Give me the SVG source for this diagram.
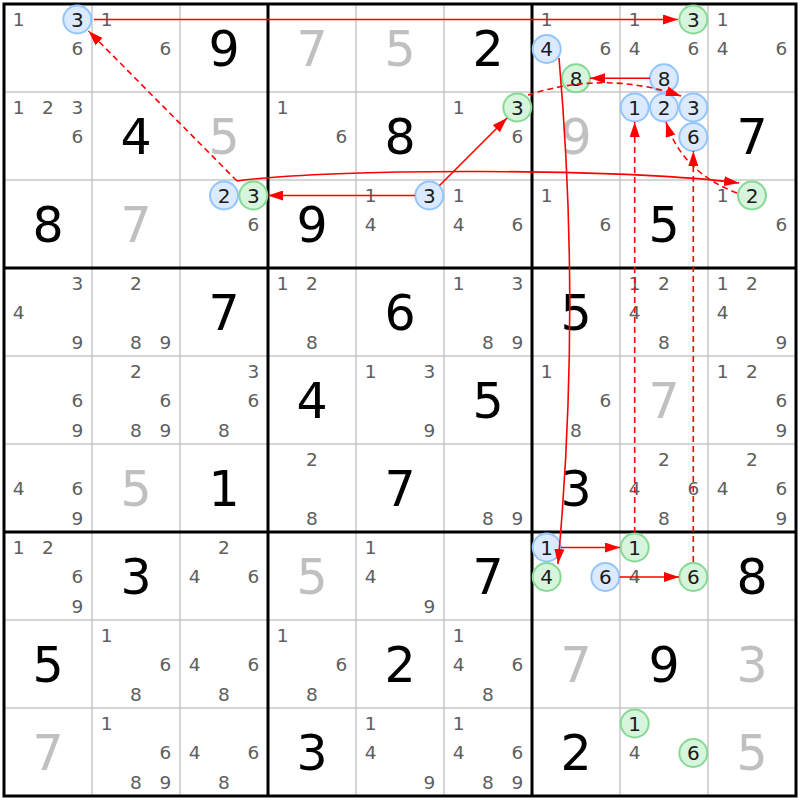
<svg xmlns="http://www.w3.org/2000/svg" width="800" height="800" viewBox="0 0 800 800">
<defs>
<style>
text{font-family:"DejaVu Sans",Verdana,sans-serif;text-anchor:middle}
.g{font-size:49px;fill:#000}
.s{font-size:49px;fill:#c0c0c0}
.c{font-size:18.5px;fill:#5e5e5e}
.h{font-size:20px;fill:#1a1a1a}
.bl{fill:#dbeafe;stroke:#93c5fd;stroke-width:2}
.gr{fill:#d6f5dc;stroke:#86d993;stroke-width:2}
.thin{stroke:#c8c8c8;stroke-width:1.5}
.thick{stroke:#000;stroke-width:3}
.a{fill:none;stroke:#f00;stroke-width:1.6;marker-end:url(#ah)}
.d{stroke-dasharray:6 4}
</style>
<marker id="ah" viewBox="0 0 15 10" refX="15" refY="5" markerWidth="15" markerHeight="10" markerUnits="userSpaceOnUse" orient="auto"><path d="M0,0 L15,5 L0,10 z" fill="#f00"/></marker>
</defs>
<rect x="0" y="0" width="800" height="800" fill="#fff"/>
<g id="grid">
<path class="thin" d="M92,4V796M180,4V796M356,4V796M444,4V796M620,4V796M708,4V796M4,92H796M4,180H796M4,356H796M4,444H796M4,620H796M4,708H796"/>
<path class="thick" d="M268,4V796M532,4V796M4,268H796M4,532H796"/>
<rect x="4" y="4" width="792" height="792" fill="none" stroke="#000" stroke-width="3"/>
</g>
<g id="cells">
<g id="r0c0" transform="translate(4,4)"><text class="c" x="14.7" y="22">1</text><circle class="bl" cx="73.3" cy="15.5" r="14"/><text class="h" x="73.3" y="22.8">3</text><text class="c" x="73.3" y="51.3">6</text></g>
<g id="r0c1" transform="translate(92,4)"><text class="c" x="14.7" y="22">1</text><text class="c" x="73.3" y="51.3">6</text></g>
<g id="r0c2" transform="translate(180,4)"><text class="g" x="44" y="62">9</text></g>
<g id="r0c3" transform="translate(268,4)"><text class="s" x="44" y="62">7</text></g>
<g id="r0c4" transform="translate(356,4)"><text class="s" x="44" y="62">5</text></g>
<g id="r0c5" transform="translate(444,4)"><text class="g" x="44" y="62">2</text></g>
<g id="r0c6" transform="translate(532,4)"><text class="c" x="14.7" y="22">1</text><circle class="bl" cx="14.7" cy="45" r="14"/><text class="h" x="14.7" y="52.3">4</text><text class="c" x="73.3" y="51.3">6</text><circle class="gr" cx="44" cy="74.3" r="14"/><text class="h" x="44" y="81.6">8</text></g>
<g id="r0c7" transform="translate(620,4)"><text class="c" x="14.7" y="22">1</text><circle class="gr" cx="73.3" cy="15.5" r="14"/><text class="h" x="73.3" y="22.8">3</text><text class="c" x="14.7" y="51.3">4</text><text class="c" x="73.3" y="51.3">6</text><circle class="bl" cx="44" cy="74.3" r="14"/><text class="h" x="44" y="81.6">8</text></g>
<g id="r0c8" transform="translate(708,4)"><text class="c" x="14.7" y="22">1</text><text class="c" x="14.7" y="51.3">4</text><text class="c" x="73.3" y="51.3">6</text></g>

<g id="r1c0" transform="translate(4,92)"><text class="c" x="14.7" y="22">1</text><text class="c" x="44" y="22">2</text><text class="c" x="73.3" y="22">3</text><text class="c" x="73.3" y="51.3">6</text></g>
<g id="r1c1" transform="translate(92,92)"><text class="g" x="44" y="62">4</text></g>
<g id="r1c2" transform="translate(180,92)"><text class="s" x="44" y="62">5</text></g>
<g id="r1c3" transform="translate(268,92)"><text class="c" x="14.7" y="22">1</text><text class="c" x="73.3" y="51.3">6</text></g>
<g id="r1c4" transform="translate(356,92)"><text class="g" x="44" y="62">8</text></g>
<g id="r1c5" transform="translate(444,92)"><text class="c" x="14.7" y="22">1</text><circle class="gr" cx="73.3" cy="15.5" r="14"/><text class="h" x="73.3" y="22.8">3</text><text class="c" x="73.3" y="51.3">6</text></g>
<g id="r1c6" transform="translate(532,92)"><text class="s" x="44" y="62">9</text></g>
<g id="r1c7" transform="translate(620,92)"><circle class="bl" cx="14.7" cy="15.5" r="14"/><text class="h" x="14.7" y="22.8">1</text><circle class="bl" cx="44" cy="15.5" r="14"/><text class="h" x="44" y="22.8">2</text><circle class="bl" cx="73.3" cy="15.5" r="14"/><text class="h" x="73.3" y="22.8">3</text><circle class="bl" cx="73.3" cy="45" r="14"/><text class="h" x="73.3" y="52.3">6</text></g>
<g id="r1c8" transform="translate(708,92)"><text class="g" x="44" y="62">7</text></g>

<g id="r2c0" transform="translate(4,180)"><text class="g" x="44" y="62">8</text></g>
<g id="r2c1" transform="translate(92,180)"><text class="s" x="44" y="62">7</text></g>
<g id="r2c2" transform="translate(180,180)"><circle class="bl" cx="44" cy="15.5" r="14"/><text class="h" x="44" y="22.8">2</text><circle class="gr" cx="73.3" cy="15.5" r="14"/><text class="h" x="73.3" y="22.8">3</text><text class="c" x="73.3" y="51.3">6</text></g>
<g id="r2c3" transform="translate(268,180)"><text class="g" x="44" y="62">9</text></g>
<g id="r2c4" transform="translate(356,180)"><text class="c" x="14.7" y="22">1</text><circle class="bl" cx="73.3" cy="15.5" r="14"/><text class="h" x="73.3" y="22.8">3</text><text class="c" x="14.7" y="51.3">4</text></g>
<g id="r2c5" transform="translate(444,180)"><text class="c" x="14.7" y="22">1</text><text class="c" x="14.7" y="51.3">4</text><text class="c" x="73.3" y="51.3">6</text></g>
<g id="r2c6" transform="translate(532,180)"><text class="c" x="14.7" y="22">1</text><text class="c" x="73.3" y="51.3">6</text></g>
<g id="r2c7" transform="translate(620,180)"><text class="g" x="44" y="62">5</text></g>
<g id="r2c8" transform="translate(708,180)"><text class="c" x="14.7" y="22">1</text><circle class="gr" cx="44" cy="15.5" r="14"/><text class="h" x="44" y="22.8">2</text><text class="c" x="73.3" y="51.3">6</text></g>

<g id="r3c0" transform="translate(4,268)"><text class="c" x="73.3" y="22">3</text><text class="c" x="14.7" y="51.3">4</text><text class="c" x="73.3" y="80.6">9</text></g>
<g id="r3c1" transform="translate(92,268)"><text class="c" x="44" y="22">2</text><text class="c" x="44" y="80.6">8</text><text class="c" x="73.3" y="80.6">9</text></g>
<g id="r3c2" transform="translate(180,268)"><text class="g" x="44" y="62">7</text></g>
<g id="r3c3" transform="translate(268,268)"><text class="c" x="14.7" y="22">1</text><text class="c" x="44" y="22">2</text><text class="c" x="44" y="80.6">8</text></g>
<g id="r3c4" transform="translate(356,268)"><text class="g" x="44" y="62">6</text></g>
<g id="r3c5" transform="translate(444,268)"><text class="c" x="14.7" y="22">1</text><text class="c" x="73.3" y="22">3</text><text class="c" x="44" y="80.6">8</text><text class="c" x="73.3" y="80.6">9</text></g>
<g id="r3c6" transform="translate(532,268)"><text class="g" x="44" y="62">5</text></g>
<g id="r3c7" transform="translate(620,268)"><text class="c" x="14.7" y="22">1</text><text class="c" x="44" y="22">2</text><text class="c" x="14.7" y="51.3">4</text><text class="c" x="44" y="80.6">8</text></g>
<g id="r3c8" transform="translate(708,268)"><text class="c" x="14.7" y="22">1</text><text class="c" x="44" y="22">2</text><text class="c" x="14.7" y="51.3">4</text><text class="c" x="73.3" y="80.6">9</text></g>

<g id="r4c0" transform="translate(4,356)"><text class="c" x="73.3" y="51.3">6</text><text class="c" x="73.3" y="80.6">9</text></g>
<g id="r4c1" transform="translate(92,356)"><text class="c" x="44" y="22">2</text><text class="c" x="73.3" y="51.3">6</text><text class="c" x="44" y="80.6">8</text><text class="c" x="73.3" y="80.6">9</text></g>
<g id="r4c2" transform="translate(180,356)"><text class="c" x="73.3" y="22">3</text><text class="c" x="73.3" y="51.3">6</text><text class="c" x="44" y="80.6">8</text></g>
<g id="r4c3" transform="translate(268,356)"><text class="g" x="44" y="62">4</text></g>
<g id="r4c4" transform="translate(356,356)"><text class="c" x="14.7" y="22">1</text><text class="c" x="73.3" y="22">3</text><text class="c" x="73.3" y="80.6">9</text></g>
<g id="r4c5" transform="translate(444,356)"><text class="g" x="44" y="62">5</text></g>
<g id="r4c6" transform="translate(532,356)"><text class="c" x="14.7" y="22">1</text><text class="c" x="73.3" y="51.3">6</text><text class="c" x="44" y="80.6">8</text></g>
<g id="r4c7" transform="translate(620,356)"><text class="s" x="44" y="62">7</text></g>
<g id="r4c8" transform="translate(708,356)"><text class="c" x="14.7" y="22">1</text><text class="c" x="44" y="22">2</text><text class="c" x="73.3" y="51.3">6</text><text class="c" x="73.3" y="80.6">9</text></g>

<g id="r5c0" transform="translate(4,444)"><text class="c" x="14.7" y="51.3">4</text><text class="c" x="73.3" y="51.3">6</text><text class="c" x="73.3" y="80.6">9</text></g>
<g id="r5c1" transform="translate(92,444)"><text class="s" x="44" y="62">5</text></g>
<g id="r5c2" transform="translate(180,444)"><text class="g" x="44" y="62">1</text></g>
<g id="r5c3" transform="translate(268,444)"><text class="c" x="44" y="22">2</text><text class="c" x="44" y="80.6">8</text></g>
<g id="r5c4" transform="translate(356,444)"><text class="g" x="44" y="62">7</text></g>
<g id="r5c5" transform="translate(444,444)"><text class="c" x="44" y="80.6">8</text><text class="c" x="73.3" y="80.6">9</text></g>
<g id="r5c6" transform="translate(532,444)"><text class="g" x="44" y="62">3</text></g>
<g id="r5c7" transform="translate(620,444)"><text class="c" x="44" y="22">2</text><text class="c" x="14.7" y="51.3">4</text><text class="c" x="73.3" y="51.3">6</text><text class="c" x="44" y="80.6">8</text></g>
<g id="r5c8" transform="translate(708,444)"><text class="c" x="44" y="22">2</text><text class="c" x="14.7" y="51.3">4</text><text class="c" x="73.3" y="51.3">6</text><text class="c" x="73.3" y="80.6">9</text></g>

<g id="r6c0" transform="translate(4,532)"><text class="c" x="14.7" y="22">1</text><text class="c" x="44" y="22">2</text><text class="c" x="73.3" y="51.3">6</text><text class="c" x="73.3" y="80.6">9</text></g>
<g id="r6c1" transform="translate(92,532)"><text class="g" x="44" y="62">3</text></g>
<g id="r6c2" transform="translate(180,532)"><text class="c" x="44" y="22">2</text><text class="c" x="14.7" y="51.3">4</text><text class="c" x="73.3" y="51.3">6</text></g>
<g id="r6c3" transform="translate(268,532)"><text class="s" x="44" y="62">5</text></g>
<g id="r6c4" transform="translate(356,532)"><text class="c" x="14.7" y="22">1</text><text class="c" x="14.7" y="51.3">4</text><text class="c" x="73.3" y="80.6">9</text></g>
<g id="r6c5" transform="translate(444,532)"><text class="g" x="44" y="62">7</text></g>
<g id="r6c6" transform="translate(532,532)"><circle class="bl" cx="14.7" cy="15.5" r="14"/><text class="h" x="14.7" y="22.8">1</text><circle class="gr" cx="14.7" cy="45" r="14"/><text class="h" x="14.7" y="52.3">4</text><circle class="bl" cx="73.3" cy="45" r="14"/><text class="h" x="73.3" y="52.3">6</text></g>
<g id="r6c7" transform="translate(620,532)"><circle class="gr" cx="14.7" cy="15.5" r="14"/><text class="h" x="14.7" y="22.8">1</text><text class="c" x="14.7" y="51.3">4</text><circle class="gr" cx="73.3" cy="45" r="14"/><text class="h" x="73.3" y="52.3">6</text></g>
<g id="r6c8" transform="translate(708,532)"><text class="g" x="44" y="62">8</text></g>

<g id="r7c0" transform="translate(4,620)"><text class="g" x="44" y="62">5</text></g>
<g id="r7c1" transform="translate(92,620)"><text class="c" x="14.7" y="22">1</text><text class="c" x="73.3" y="51.3">6</text><text class="c" x="44" y="80.6">8</text></g>
<g id="r7c2" transform="translate(180,620)"><text class="c" x="14.7" y="51.3">4</text><text class="c" x="73.3" y="51.3">6</text><text class="c" x="44" y="80.6">8</text></g>
<g id="r7c3" transform="translate(268,620)"><text class="c" x="14.7" y="22">1</text><text class="c" x="73.3" y="51.3">6</text><text class="c" x="44" y="80.6">8</text></g>
<g id="r7c4" transform="translate(356,620)"><text class="g" x="44" y="62">2</text></g>
<g id="r7c5" transform="translate(444,620)"><text class="c" x="14.7" y="22">1</text><text class="c" x="14.7" y="51.3">4</text><text class="c" x="73.3" y="51.3">6</text><text class="c" x="44" y="80.6">8</text></g>
<g id="r7c6" transform="translate(532,620)"><text class="s" x="44" y="62">7</text></g>
<g id="r7c7" transform="translate(620,620)"><text class="g" x="44" y="62">9</text></g>
<g id="r7c8" transform="translate(708,620)"><text class="s" x="44" y="62">3</text></g>

<g id="r8c0" transform="translate(4,708)"><text class="s" x="44" y="62">7</text></g>
<g id="r8c1" transform="translate(92,708)"><text class="c" x="14.7" y="22">1</text><text class="c" x="73.3" y="51.3">6</text><text class="c" x="44" y="80.6">8</text><text class="c" x="73.3" y="80.6">9</text></g>
<g id="r8c2" transform="translate(180,708)"><text class="c" x="14.7" y="51.3">4</text><text class="c" x="73.3" y="51.3">6</text><text class="c" x="44" y="80.6">8</text></g>
<g id="r8c3" transform="translate(268,708)"><text class="g" x="44" y="62">3</text></g>
<g id="r8c4" transform="translate(356,708)"><text class="c" x="14.7" y="22">1</text><text class="c" x="14.7" y="51.3">4</text><text class="c" x="73.3" y="80.6">9</text></g>
<g id="r8c5" transform="translate(444,708)"><text class="c" x="14.7" y="22">1</text><text class="c" x="14.7" y="51.3">4</text><text class="c" x="73.3" y="51.3">6</text><text class="c" x="44" y="80.6">8</text><text class="c" x="73.3" y="80.6">9</text></g>
<g id="r8c6" transform="translate(532,708)"><text class="g" x="44" y="62">2</text></g>
<g id="r8c7" transform="translate(620,708)"><circle class="gr" cx="14.7" cy="15.5" r="14"/><text class="h" x="14.7" y="22.8">1</text><text class="c" x="14.7" y="51.3">4</text><circle class="gr" cx="73.3" cy="45" r="14"/><text class="h" x="73.3" y="52.3">6</text></g>
<g id="r8c8" transform="translate(708,708)"><text class="s" x="44" y="62">5</text></g>
</g>
<g id="connectors">
<path class="a" d="M94,19.5 L678,19.5"/>
<path class="a d" d="M237,181 L88.5,31"/>
<path class="a" d="M415,195.5 L268,195.5"/>
<path class="a" d="M439.5,185.5 L507,118"/>
<path class="a" d="M237,181 C330,168 620,168 739,183"/>
<path class="a d" d="M528,95 Q605,70 681,96"/>
<path class="a" d="M650,78.3 L590,78.3"/>
<path class="a d" d="M737,193 Q682,172 666,122"/>
<path class="a d" d="M634.7,533 L634.7,122"/>
<path class="a d" d="M693.3,562 L693.3,151"/>
<path class="a" d="M559,58 Q581,310 558,564"/>
<path class="a" d="M561,547.5 L620,547.5"/>
<path class="a" d="M619.5,577 L679,577"/>
</g>
</svg>
